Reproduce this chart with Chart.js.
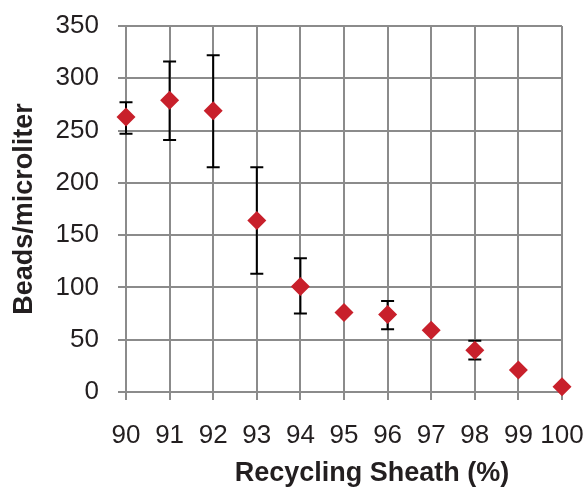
<!DOCTYPE html>
<html>
<head>
<meta charset="utf-8">
<script src="https://cdn.jsdelivr.net/npm/chart.js@4.4.1/dist/chart.umd.min.js"></script>
<style>
  html, body { margin: 0; padding: 0; background: #fff; }
  #wrap { width: 587px; height: 487px; }
</style>
</head>
<body>
<div id="wrap"><canvas id="beadsChart" width="587" height="487"></canvas></div>
<script>
// Recycling sheath percentage (x) and measured bead concentration (y)
const sheath = [90, 91, 92, 93, 94, 95, 96, 97, 98, 99, 100];
const beads = [263, 279, 269, 164, 101, 76, 74, 59, 40, 21, 5];
// Error bar ends (null = no error bar shown)
const errLow = [247, 241, 215, 113, 75, null, 60, null, 31, null, null];
const errHigh = [277, 316, 322, 215, 128, null, 87, null, 49, null, null];

const xTitle = 'Recycling Sheath (%)';
const yTitle = 'Beads/microliter';

const gridGray = '#8b8b8b';
const textColor = '#231f20';

// Draws vertical error bars with caps, behind the markers
const errorBars = {
    id: 'errorBars',
    beforeDatasetsDraw(chart) {
        const ctx = chart.ctx;
        const xs = chart.scales.x;
        const ys = chart.scales.y;
        ctx.save();
        ctx.strokeStyle = '#000';
        ctx.lineWidth = 2;
        sheath.forEach((s, i) => {
            if (errLow[i] === null) return;
            const px = xs.getPixelForValue(s);
            const top = ys.getPixelForValue(errHigh[i]);
            const bot = ys.getPixelForValue(errLow[i]);
            ctx.beginPath();
            ctx.moveTo(px, top);
            ctx.lineTo(px, bot);
            ctx.moveTo(px - 6.5, top);
            ctx.lineTo(px + 6.5, top);
            ctx.moveTo(px - 6.5, bot);
            ctx.lineTo(px + 6.5, bot);
            ctx.stroke();
        });
        ctx.restore();
    }
};

// x axis title sits a bit right of the plot centre in the original
const xAxisTitle = {
    id: 'xAxisTitle',
    afterDraw(chart) {
        const ctx = chart.ctx;
        const xs = chart.scales.x;
        ctx.save();
        ctx.font = 'bold 27px "Liberation Sans"';
        ctx.fillStyle = textColor;
        ctx.textAlign = 'center';
        ctx.textBaseline = 'middle';
        ctx.fillText(xTitle, (xs.left + xs.right) / 2 + 28, xs.bottom - 13);
        ctx.restore();
    }
};

const config = {
    type: 'scatter',
    data: {
        datasets: [{
            data: sheath.map((s, i) => ({ x: s, y: beads[i] })),
            pointStyle: 'rectRot',
            pointRadius: 9.5,
            pointHoverRadius: 9.5,
            backgroundColor: '#c8202b',
            borderColor: '#c8202b',
            borderWidth: 0,
            clip: false
        }]
    },
    options: {
        responsive: false,
        animation: false,
        layout: { padding: { top: 26, right: 25, left: 0, bottom: 0 } },
        plugins: {
            legend: { display: false },
            tooltip: { enabled: false }
        },
        scales: {
            x: {
                type: 'linear',
                min: 90,
                max: 100,
                afterFit: (scale) => {
                    scale.height = 95;
                    scale.paddingLeft = 0;
                    scale.paddingRight = 0;
                },
                ticks: {
                    stepSize: 1,
                    autoSkip: false,
                    maxRotation: 0,
                    minRotation: 0,
                    padding: 20,
                    color: textColor,
                    font: { family: 'Liberation Sans', size: 26 }
                },
                grid: { color: gridGray, lineWidth: 2, tickLength: 8 },
                border: { color: gridGray, width: 2 }
            },
            y: {
                min: 0,
                max: 350,
                afterFit: (scale) => {
                    scale.width = 126;
                    scale.paddingTop = 0;
                    scale.paddingBottom = 0;
                },
                ticks: {
                    stepSize: 50,
                    padding: 19,
                    color: textColor,
                    font: { family: 'Liberation Sans', size: 26 }
                },
                grid: { color: gridGray, lineWidth: 2, tickLength: 8 },
                border: { color: gridGray, width: 2 },
                title: {
                    display: true,
                    text: yTitle,
                    color: textColor,
                    padding: { top: 8, bottom: 0 },
                    font: { family: 'Liberation Sans', size: 27, weight: 'bold' }
                }
            }
        }
    },
    plugins: [errorBars, xAxisTitle]
};

const beadsChart = new Chart(document.getElementById('beadsChart'), config);
</script>
</body>
</html>
